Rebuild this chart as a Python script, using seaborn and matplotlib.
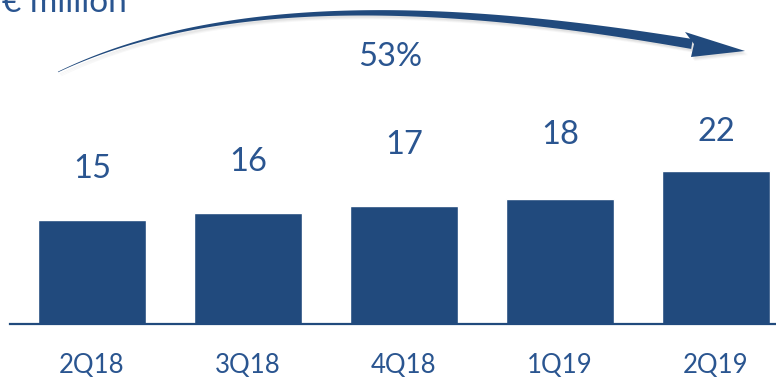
import numpy as np
import pandas as pd
import matplotlib
matplotlib.use("Agg")
import matplotlib.pyplot as plt
from matplotlib.patches import Polygon
import seaborn as sns

categories = ["2Q18", "3Q18", "4Q18", "1Q19", "2Q19"]
values = [15, 16, 17, 18, 22]
growth_label = "53%"
unit_label = "€ million"

BAR = "#214A7D"
TXT = "#2A5590"

sns.set_theme(style="white")
plt.rcParams["font.family"] = ["Lato", "DejaVu Sans"]

W, H = 776, 378
fig = plt.figure(figsize=(W / 100, H / 100), dpi=100)

# main bar axes: x from 10px to 776px, baseline at 324px
ax = fig.add_axes([10 / W, 1 - 324 / H, 1 - 10 / W, 324 / H])
df = pd.DataFrame({"q": categories, "v": values})
sns.barplot(data=df, x="q", y="v", color=BAR, width=0.69, saturation=1, ax=ax)
ax.set_xlim(-82 / 156, 4 + 60 / 156)
ax.set_ylim(0, 324 / 6.95)
for s in ["top", "left", "right"]:
    ax.spines[s].set_visible(False)
ax.spines["bottom"].set_color(BAR)
ax.spines["bottom"].set_linewidth(1.6)
ax.set_yticks([])
ax.set_xlabel("")
ax.set_ylabel("")
ax.tick_params(axis="x", length=0, pad=21, labelsize=18.5, labelcolor=TXT)
ax.patch.set_alpha(0)

label_offsets_px = [51, 51, 61, 64, 39]
for i, v in enumerate(values):
    ax.annotate(str(v), (i, v), xytext=(0, label_offsets_px[i]),
                textcoords="offset pixels", ha="center", va="center",
                fontsize=23.5, color=TXT)

# overlay in pixel coordinates for arrow and texts
ov = fig.add_axes([0, 0, 1, 1])
ov.set_xlim(0, W)
ov.set_ylim(H, 0)
ov.axis("off")
ov.patch.set_alpha(0)

def bez(t, P):
    P0, P1, P2, P3 = P
    return ((1 - t) ** 3)[:, None] * P0 + (3 * (1 - t) ** 2 * t)[:, None] * P1 + \
        (3 * (1 - t) * t ** 2)[:, None] * P2 + (t ** 3)[:, None] * P3

def arrow_poly(dx=0.0, dy=0.0):
    P = [np.array([58.0, 72.0]), np.array([238.0, -14.4]),
         np.array([490.0, 10.0]), np.array([692.0, 44.0])]
    P = [p + np.array([dx, dy]) for p in P]
    t = np.linspace(0, 1, 200)
    pts = bez(t, P)
    d = np.gradient(pts, axis=0)
    n = np.stack([-d[:, 1], d[:, 0]], axis=1)
    n /= np.linalg.norm(n, axis=1)[:, None]
    w = (0.6 + 9.4 * t) / 2
    upper = pts + n * w[:, None]
    lower = pts - n * w[:, None]
    shaft = np.vstack([upper, lower[::-1]])
    head = np.array([[685, 32], [745, 51], [691, 57], [694, 44]], float) + np.array([dx, dy])
    return shaft, head

# soft shadow
for k, a in [(4, 0.06), (3, 0.08), (2, 0.10)]:
    sh, hd = arrow_poly(k * 0.8, k)
    ov.add_patch(Polygon(sh, closed=True, fc="#808080", ec="none", alpha=a))
    ov.add_patch(Polygon(hd, closed=True, fc="#808080", ec="none", alpha=a))
sh, hd = arrow_poly()
ov.add_patch(Polygon(sh, closed=True, fc=BAR, ec="none"))
ov.add_patch(Polygon(hd, closed=True, fc=BAR, ec="none"))

ov.text(390, 57, growth_label, ha="center", va="center", fontsize=23.5, color=TXT)
ov.text(127, 12, unit_label, ha="right", va="baseline", fontsize=24, color=TXT)

fig.savefig("out.png", dpi=100)
